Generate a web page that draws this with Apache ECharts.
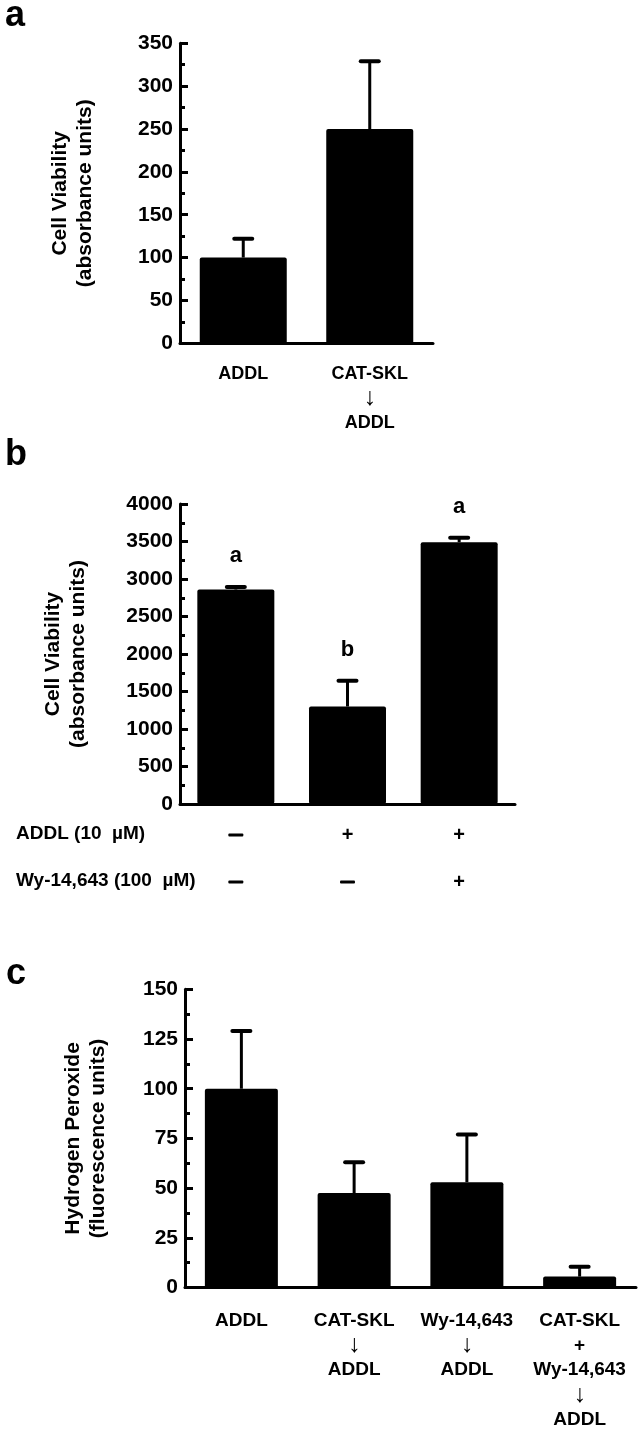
<!DOCTYPE html>
<html>
<head>
<meta charset="utf-8">
<script src="https://cdn.jsdelivr.net/npm/echarts@6/dist/echarts.min.js"></script>
<style>
html,body{margin:0;padding:0;background:#fff;}
#chart{width:642px;height:1429px;}
</style>
</head>
<body>
<div id="chart"></div>
<script>
// ---- Panel a ----
const catsA = ['ADDL', 'CAT-SKL\n↓\nADDL'];
const meanA = [100, 250];
const sdA = [22, 79];

// ---- Panel b ----
const addlRow = ['-', '+', '+'];
const wyRow = ['-', '-', '+'];
const meanB = [2860, 1300, 3490];
const sdB = [35, 345, 60];
const sigB = ['a', 'b', 'a'];
const rowLabelsB = ['ADDL (10 \u00a0\u00b5M)', 'Wy-14,643 (100 \u00a0\u00b5M)'];

// ---- Panel c ----
const catsC = ['ADDL', 'CAT-SKL\n↓\nADDL', 'Wy-14,643\n↓\nADDL', 'CAT-SKL\n+\nWy-14,643\n↓\nADDL'];
const meanC = [100, 47.5, 53, 5.5];
const sdC = [29, 15.5, 24, 5];

const FF = '"Liberation Sans", Arial, Helvetica, sans-serif';

function richLabel(v) {
  return v.split('\n').map(l => l === '↓' ? '{ar|↓}' : '{t|' + l + '}').join('\n');
}

function yAxisCfg(gi, max, interval, name, gap) {
  return {
    gridIndex: gi, type: 'value', min: 0, max: max, interval: interval,
    name: name, nameLocation: 'middle', nameRotate: 90, nameGap: gap,
    nameTextStyle: { fontFamily: FF, fontWeight: 'bold', fontSize: 21, lineHeight: 25, color: '#000' },
    axisLine: { show: true, lineStyle: { color: '#000', width: 3 } },
    axisTick: { show: true, inside: true, length: 8, lineStyle: { color: '#000', width: 3 } },
    minorTick: { show: true, splitNumber: 2, length: 5, lineStyle: { color: '#000', width: 3 } },
    splitLine: { show: false },
    axisLabel: { fontFamily: FF, fontWeight: 'bold', fontSize: 21, color: '#000', margin: 7,
                 formatter: function (v) { return String(v); } }
  };
}

function xAxisCfg(gi, data, fs, margin, lh) {
  return {
    gridIndex: gi, type: 'category', data: data,
    axisLine: { show: true, lineStyle: { color: '#000', width: 3 } },
    axisTick: { show: false },
    axisLabel: {
      interval: 0, margin: margin, formatter: richLabel,
      rich: {
        t: { fontFamily: FF, fontWeight: 'bold', fontSize: fs, lineHeight: lh, color: '#000' },
        ar: { fontFamily: FF, fontWeight: 'normal', fontSize: 25, lineHeight: lh, color: '#000' }
      }
    }
  };
}

function errSeries(idx, means, sds, sig) {
  return {
    type: 'custom', xAxisIndex: idx, yAxisIndex: idx, z: 5,
    data: means.map((m, i) => [i, m, sds[i]]),
    renderItem: function (params, api) {
      const x = api.value(0), m = api.value(1), s = api.value(2);
      const p0 = api.coord([x, m]);
      const p1 = api.coord([x, m + s]);
      const children = [
        { type: 'line', shape: { x1: p0[0], y1: p0[1], x2: p1[0], y2: p1[1] },
          style: { stroke: '#000', lineWidth: 3 } },
        { type: 'line', shape: { x1: p1[0] - 9, y1: p1[1], x2: p1[0] + 9, y2: p1[1] },
          style: { stroke: '#000', lineWidth: 4, lineCap: 'round' } }
      ];
      if (sig) {
        children.push({ type: 'text', x: p1[0], y: p1[1] - 20,
          style: { text: sig[params.dataIndex], fontFamily: FF, fontWeight: 'bold', fontSize: 22,
                   fill: '#000', align: 'center', verticalAlign: 'bottom' } });
      }
      return { type: 'group', children: children };
    }
  };
}

function barSeries(idx, means, w) {
  return {
    type: 'bar', xAxisIndex: idx, yAxisIndex: idx, data: means, barWidth: w,
    itemStyle: { color: '#000', borderRadius: 2 }, silent: true
  };
}

const chart = echarts.init(document.getElementById('chart'), null, { renderer: 'canvas' });

const xB = xAxisCfg(1, addlRow.map((a, i) => a + '\n' + wyRow[i]), 18, 7.5, 47);
xB.axisLabel.formatter = function (v) {
  return v.split('\n').map(l => l === '+' ? '{p|+}' : '{d| }').join('\n');
};
xB.axisLabel.rich = {
  p: { fontFamily: FF, fontWeight: 'bold', fontSize: 20, lineHeight: 47, color: '#000' },
  d: { fontFamily: FF, fontSize: 10, width: 15, height: 3, lineHeight: 47, backgroundColor: '#000', borderRadius: 1 }
};

chart.setOption({
  animation: false,
  backgroundColor: '#fff',
  grid: [
    { left: 180, top: 43.3, width: 253, height: 300 },
    { left: 180, top: 504, width: 335, height: 300 },
    { left: 185, top: 989.3, width: 451, height: 300 }
  ],
  xAxis: [
    xAxisCfg(0, catsA, 18, 18.5, 24.5),
    xB,
    xAxisCfg(2, catsC, 19, 20.8, 24.7)
  ],
  yAxis: [
    yAxisCfg(0, 350, 50, 'Cell Viability\n(absorbance units)', 82),
    yAxisCfg(1, 4000, 500, 'Cell Viability\n(absorbance units)', 89),
    yAxisCfg(2, 150, 25, 'Hydrogen Peroxide\n(fluorescence units)', 74)
  ],
  series: [
    barSeries(0, meanA, 87),
    errSeries(0, meanA, sdA, null),
    barSeries(1, meanB, 77),
    errSeries(1, meanB, sdB, sigB),
    barSeries(2, meanC, 73),
    errSeries(2, meanC, sdC, null)
  ],
  graphic: [
    { type: 'text', left: 5, top: -2, style: { text: 'a', fontFamily: FF, fontWeight: 'bold', fontSize: 36, fill: '#000' } },
    { type: 'text', left: 5, top: 437, style: { text: 'b', fontFamily: FF, fontWeight: 'bold', fontSize: 36, fill: '#000' } },
    { type: 'text', left: 6, top: 956, style: { text: 'c', fontFamily: FF, fontWeight: 'bold', fontSize: 36, fill: '#000' } },
    { type: 'text', left: 16, top: 824, style: { text: rowLabelsB[0], fontFamily: FF, fontWeight: 'bold', fontSize: 19, fill: '#000' } },
    { type: 'text', left: 16, top: 871, style: { text: rowLabelsB[1], fontFamily: FF, fontWeight: 'bold', fontSize: 19, fill: '#000' } }
  ]
});
</script>
</body>
</html>
